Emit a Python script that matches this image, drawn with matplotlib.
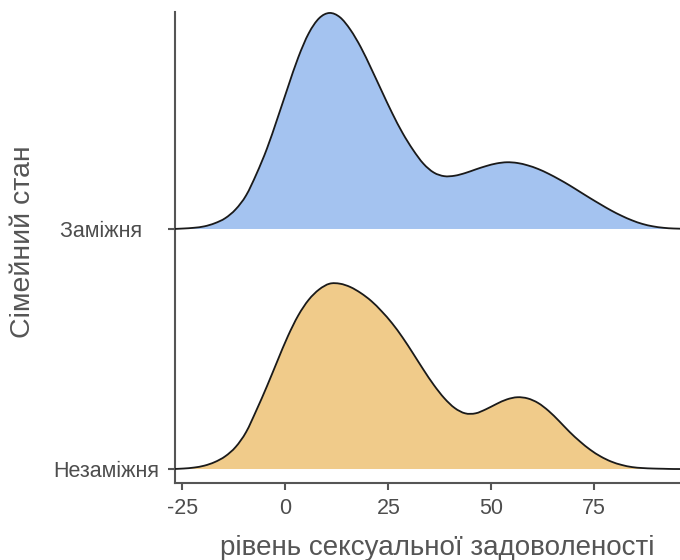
import matplotlib
matplotlib.use("Agg")

import matplotlib.pyplot as plt
from matplotlib.path import Path
from matplotlib.patches import PathPatch

# categories, bottom to top
groups = ["Незаміжня", "Заміжня   "]

# score grid
score = [-27.25, -24.71, -22.18, -19.65, -17.12, -14.59, -12.05, -9.52, -6.99, -4.46,
         -1.93, 0.61, 3.14, 5.67, 8.20, 10.73, 13.27, 15.80, 18.33, 20.86,
         23.39, 25.93, 28.46, 30.99, 33.52, 36.05, 38.59, 41.12, 43.65, 46.18,
         48.71, 51.25, 53.78, 56.31, 58.84, 61.37, 63.91, 66.44, 68.97, 71.50,
         74.03, 76.57, 79.10, 81.63, 84.16, 86.69, 89.23, 91.76, 94.29, 96.82]

# ridge heights (in units of the spacing between groups)
dens_unmarried = [0.000, 0.002, 0.006, 0.014, 0.029, 0.053, 0.092, 0.154, 0.246, 0.345,
                  0.450, 0.553, 0.640, 0.705, 0.748, 0.772, 0.772, 0.758, 0.733, 0.700,
                  0.657, 0.607, 0.548, 0.482, 0.414, 0.350, 0.295, 0.254, 0.232, 0.232,
                  0.249, 0.271, 0.290, 0.299, 0.294, 0.275, 0.242, 0.200, 0.155, 0.115,
                  0.080, 0.052, 0.031, 0.017, 0.008, 0.004, 0.002, 0.001, 0.000, 0.000]
dens_married = [0.000, 0.002, 0.005, 0.011, 0.024, 0.045, 0.082, 0.140, 0.230, 0.335,
                0.460, 0.590, 0.715, 0.815, 0.878, 0.900, 0.882, 0.830, 0.757, 0.668,
                0.575, 0.483, 0.400, 0.330, 0.272, 0.235, 0.220, 0.222, 0.233, 0.248,
                0.262, 0.273, 0.278, 0.275, 0.265, 0.250, 0.230, 0.207, 0.182, 0.155,
                0.128, 0.102, 0.077, 0.055, 0.036, 0.021, 0.011, 0.005, 0.002, 0.001]

x_ticks = [-25, 0, 25, 50, 75]
colors = ["#F0CB8A", "#A4C3F0"]

plt.rcParams["font.family"] = ["Liberation Sans", "DejaVu Sans"]


def smooth_path(xs, ys):
    """Cubic bezier path through the points (catmull-rom handles)."""
    verts = [(xs[0], ys[0])]
    codes = [Path.MOVETO]
    n = len(xs)
    for k in range(n - 1):
        p0 = (xs[max(k - 1, 0)], ys[max(k - 1, 0)])
        p1 = (xs[k], ys[k])
        p2 = (xs[k + 1], ys[k + 1])
        p3 = (xs[min(k + 2, n - 1)], ys[min(k + 2, n - 1)])
        c1 = (p1[0] + (p2[0] - p0[0]) / 6, p1[1] + (p2[1] - p0[1]) / 6)
        c2 = (p2[0] - (p3[0] - p1[0]) / 6, p2[1] - (p3[1] - p1[1]) / 6)
        verts += [c1, c2, p2]
        codes += [Path.CURVE4] * 3
    return verts, codes


fig = plt.figure(figsize=(6.8, 5.6), dpi=100)
ax = fig.add_axes([175 / 680, 77 / 560, 505 / 680, 471 / 560])

# top ridge first so the lower one sits above it
for i in [1, 0]:
    d = [dens_unmarried, dens_married][i]
    base = i + 1
    verts, codes = smooth_path(score, [base + v for v in d])
    fill_verts = verts + [(score[-1], base), (score[0], base), verts[0]]
    fill_codes = codes + [Path.LINETO, Path.LINETO, Path.CLOSEPOLY]
    ax.add_patch(PathPatch(Path(fill_verts, fill_codes), facecolor=colors[i],
                           lw=0, zorder=2))
    ax.add_patch(PathPatch(Path(verts, codes), facecolor="none",
                           edgecolor="#1a1a1a", lw=1.3, zorder=3))

ax.set_xlim(-26.78, 95.8)
ax.set_ylim(0.9417, 2.904)

ax.set_yticks([1, 2])
ax.set_yticklabels(groups)
ax.set_xticks(x_ticks)
ax.set_xticklabels([str(t) for t in x_ticks])

for s in ["top", "right"]:
    ax.spines[s].set_visible(False)
for s in ["left", "bottom"]:
    ax.spines[s].set_color("#555555")
    ax.spines[s].set_linewidth(1.5)

ax.tick_params(axis="both", colors="#555555", width=1.5, length=5,
               labelcolor="#4d4d4d", labelsize=15.5, pad=6)

ax.set_xlabel("рівень сексуальної задоволеності", fontsize=20, color="#555555")
ax.set_ylabel("Сімейний стан", fontsize=20.5, color="#555555")
ax.xaxis.set_label_coords(0.52, -0.11)
ax.yaxis.set_label_coords(-0.275, 0.512)

fig.savefig("out.png", dpi=100)
plt.close(fig)
